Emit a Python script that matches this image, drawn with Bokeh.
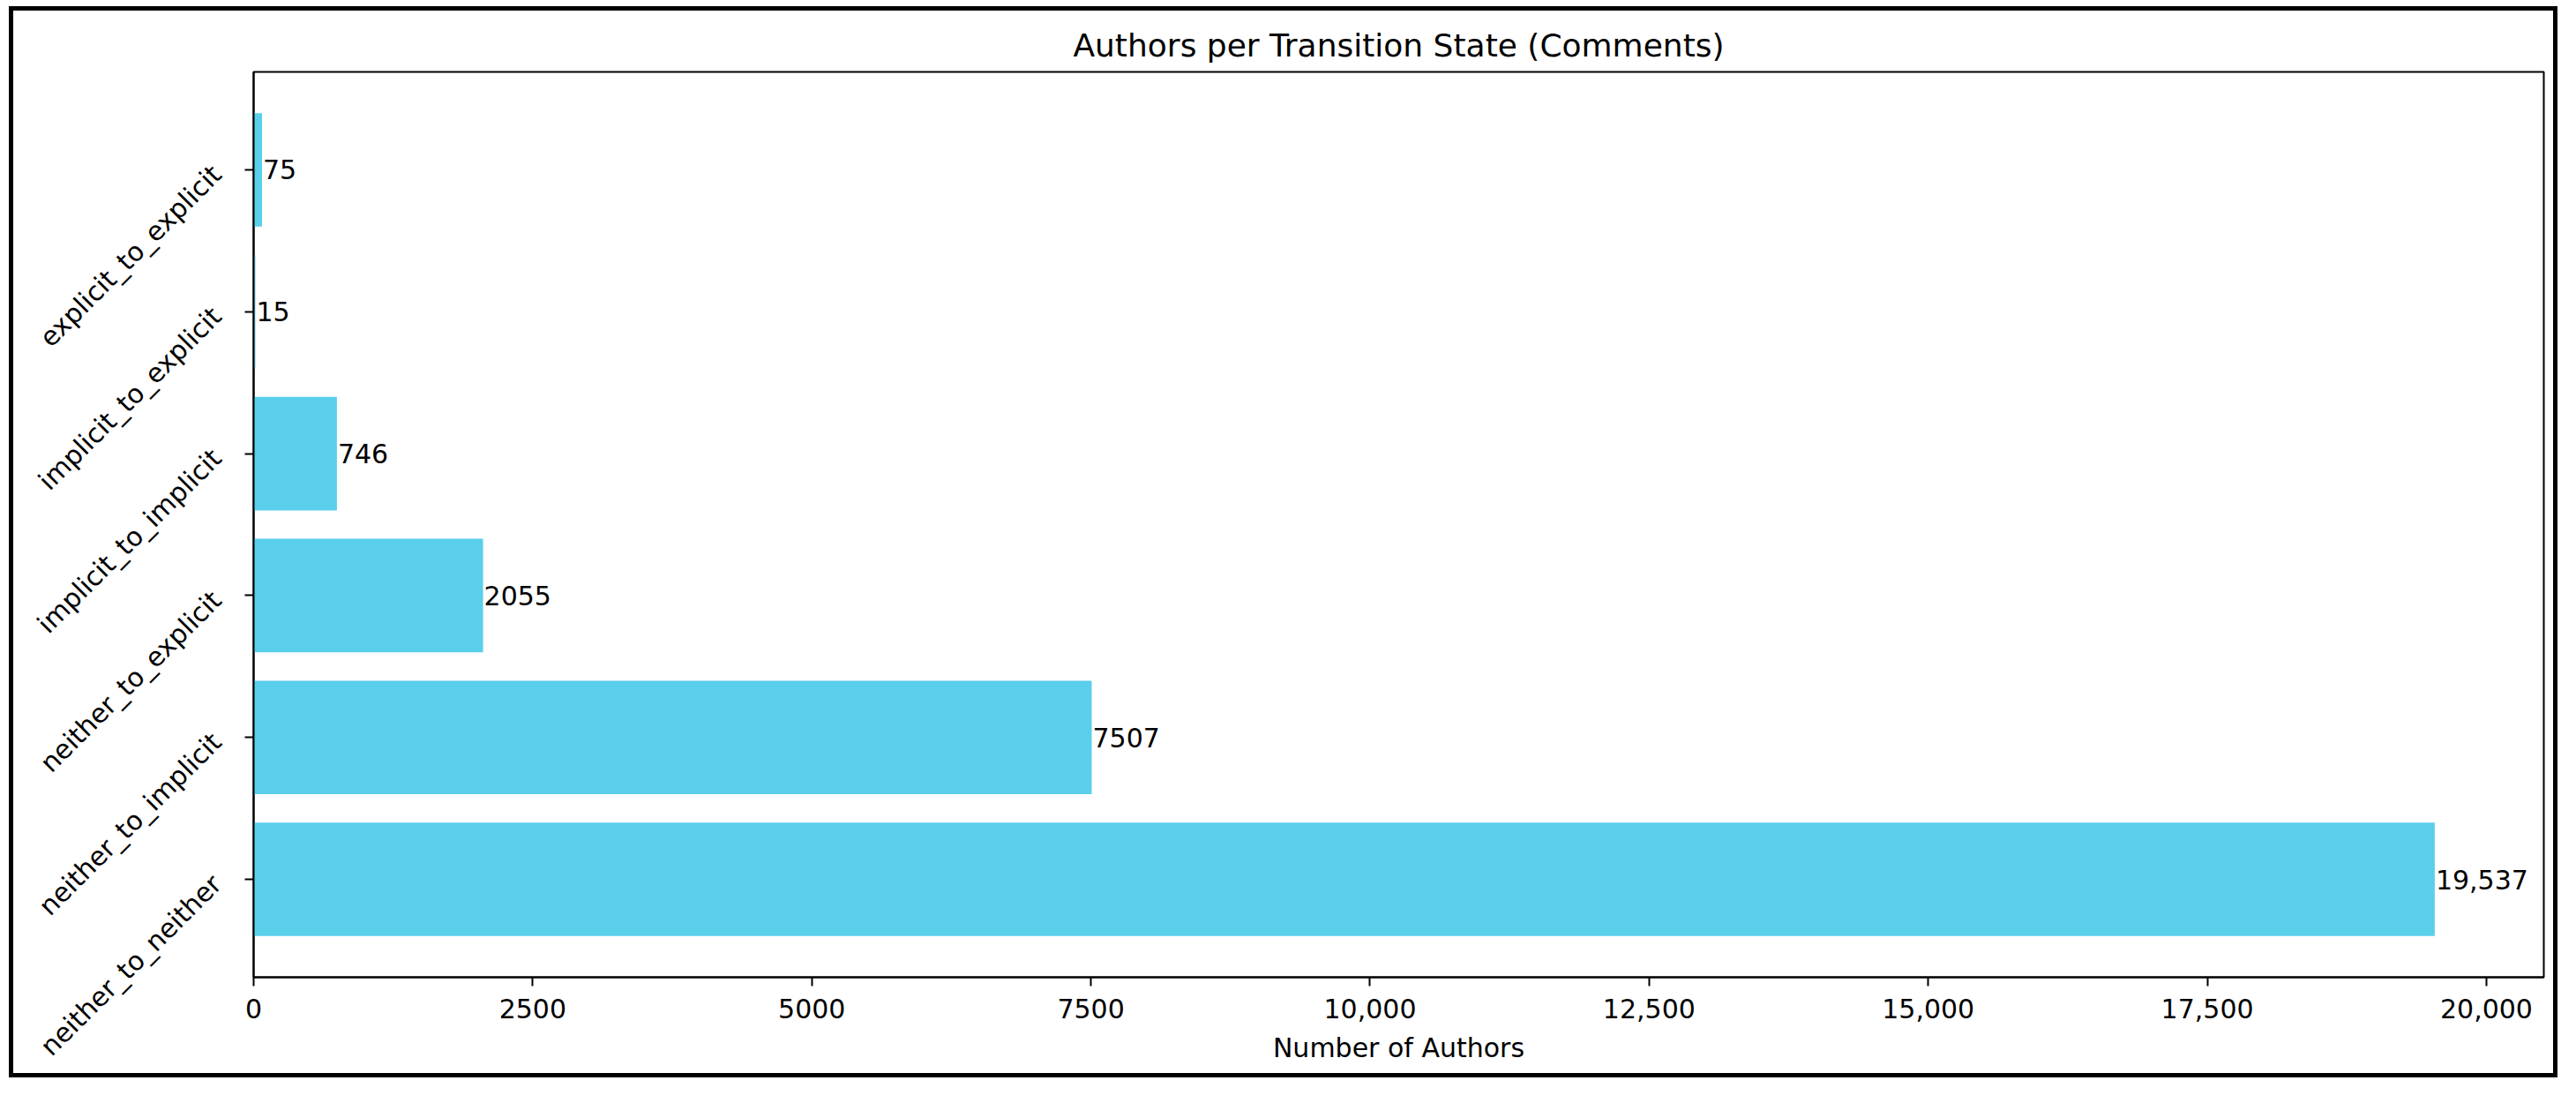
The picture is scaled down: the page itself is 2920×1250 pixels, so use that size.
import math
from bokeh.plotting import figure
from bokeh.models import Range1d, FixedTicker, ColumnDataSource, Spacer
from bokeh.layouts import row, column
from bokeh.core.properties import value
from bokeh.embed import file_html
from bokeh.resources import INLINE

# ---- data (bottom to top) ----
categories = ["neither_to_neither", "neither_to_implicit", "neither_to_explicit",
              "implicit_to_implicit", "implicit_to_explicit", "explicit_to_explicit"]
authors = [19537, 7507, 2055, 746, 15, 75]
x_tick_values = [0, 2500, 5000, 7500, 10000, 12500, 15000, 17500, 20000]
x_tick_labels = ["0", "2500", "5000", "7500", "10,000", "12,500", "15,000", "17,500", "20,000"]

title_text = "Authors per Transition State (Comments)"
x_label = "Number of Authors"
bar_color = "#59CFEC"
FONT = "DejaVu Sans"

ypos = list(range(len(categories)))
bar_labels = [f"{v:,}" if v >= 10000 else str(v) for v in authors]
src = ColumnDataSource(dict(y=ypos, v=authors, lab=bar_labels, cat=categories))

p = figure(width=2879, height=1204, output_backend="svg", toolbar_location=None,
           x_range=Range1d(0, max(authors) * 1.05),
           y_range=Range1d(-0.4 - 0.29, len(categories) - 1 + 0.4 + 0.29),
           min_border_left=272, min_border_top=69, min_border_right=21, min_border_bottom=119,
           styles={"border": "5px solid black", "box-sizing": "content-box"})

p.hbar(y="y", right="v", left=0, height=0.8, source=src,
       fill_color=bar_color, line_color=None)
p.text(x="v", y="y", text="lab", source=src, text_align="left", text_baseline="middle",
       text_font=value(FONT), text_font_size="30px", text_color="black", x_offset=1)

p.title.text = title_text
p.title.align = "center"
p.title.text_font = FONT
p.title.text_font_size = "36px"
p.title.text_font_style = "normal"
p.title.text_color = "black"
p.title.standoff = 19

p.grid.visible = False
p.outline_line_color = "black"
p.outline_line_width = 2
p.background_fill_color = "white"
p.border_fill_color = "white"

xa = p.xaxis[0]
xa.ticker = FixedTicker(ticks=x_tick_values)
xa.major_label_overrides = {v: l for v, l in zip(x_tick_values, x_tick_labels)}
xa.axis_label = x_label
xa.axis_label_text_font = FONT
xa.axis_label_text_font_size = "30px"
xa.axis_label_text_font_style = "normal"
xa.axis_label_text_color = "black"
xa.axis_label_standoff = 13
xa.major_label_text_font = FONT
xa.major_label_text_font_size = "30px"
xa.major_label_text_color = "black"
xa.major_label_standoff = 14
xa.major_tick_out = 10
xa.major_tick_in = 0
xa.minor_tick_out = 0
xa.minor_tick_in = 0
xa.major_tick_line_width = 2
xa.axis_line_width = 2
xa.axis_line_color = "black"
xa.major_tick_line_color = "black"

ya = p.yaxis[0]
ya.ticker = FixedTicker(ticks=ypos)
ya.major_label_overrides = {i: c for i, c in zip(ypos, categories)}
ya.major_label_orientation = math.pi / 4
ya.major_label_text_font = FONT
ya.major_label_text_font_size = "30px"
ya.major_label_text_color = "black"
ya.major_label_standoff = 32
ya.major_tick_out = 10
ya.major_tick_in = 0
ya.minor_tick_out = 0
ya.minor_tick_in = 0
ya.major_tick_line_width = 2
ya.axis_line_width = 2
ya.axis_line_color = "black"
ya.major_tick_line_color = "black"

page = column(Spacer(width=10, height=7),
              row(Spacer(width=10, height=10), p, spacing=0), spacing=0)

open("out.html", "w").write(file_html(page, INLINE))
